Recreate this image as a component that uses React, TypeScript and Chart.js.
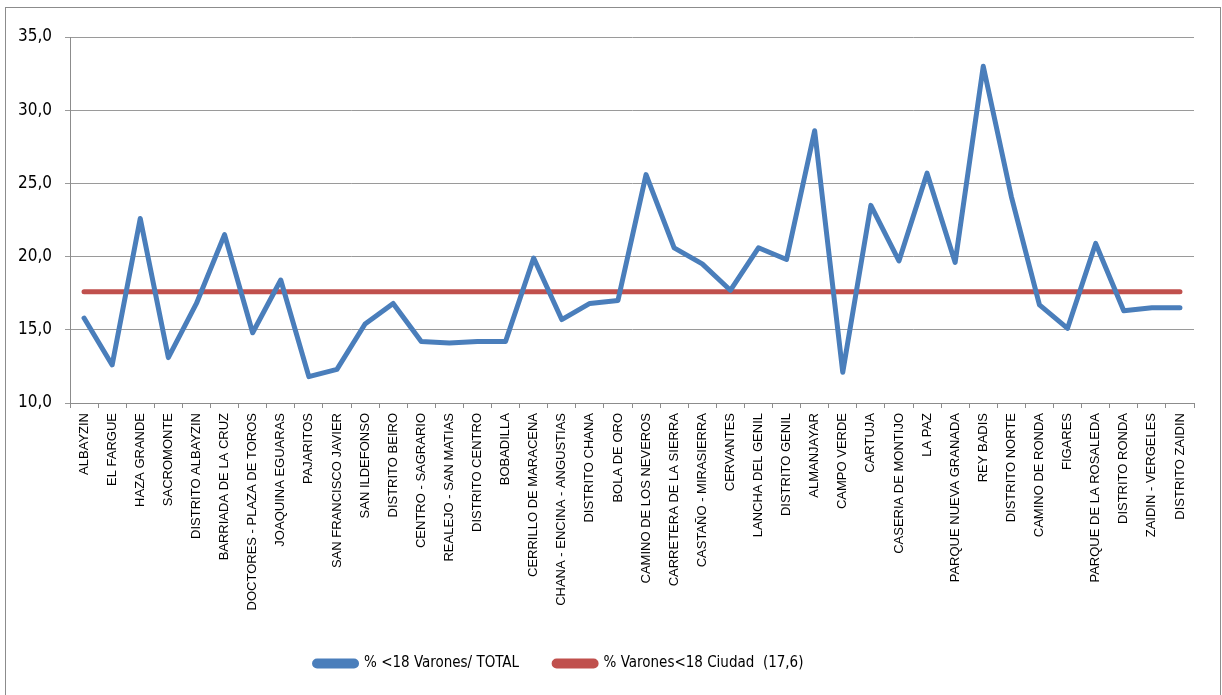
import React, { useEffect, useRef } from "react";
import { Chart, registerables } from "chart.js";

Chart.register(...registerables);

const categories = [
  "ALBAYZIN", "EL FARGUE", "HAZA GRANDE", "SACROMONTE", "DISTRITO ALBAYZIN",
  "BARRIADA DE LA CRUZ", "DOCTORES - PLAZA DE TOROS", "JOAQUINA EGUARAS", "PAJARITOS",
  "SAN FRANCISCO JAVIER", "SAN ILDEFONSO", "DISTRITO BEIRO", "CENTRO - SAGRARIO",
  "REALEJO - SAN MATIAS", "DISTRITO CENTRO", "BOBADILLA", "CERRILLO DE MARACENA",
  "CHANA - ENCINA - ANGUSTIAS", "DISTRITO CHANA", "BOLA DE ORO", "CAMINO DE LOS NEVEROS",
  "CARRETERA DE LA SIERRA", "CASTAÑO - MIRASIERRA", "CERVANTES", "LANCHA DEL GENIL",
  "DISTRITO GENIL", "ALMANJAYAR", "CAMPO VERDE", "CARTUJA", "CASERIA DE MONTIJO",
  "LA PAZ", "PARQUE NUEVA GRANADA", "REY BADIS", "DISTRITO NORTE", "CAMINO DE RONDA",
  "FIGARES", "PARQUE DE LA ROSALEDA", "DISTRITO RONDA", "ZAIDIN - VERGELES", "DISTRITO ZAIDIN",
];

const varonesTotal = [
  15.8, 12.6, 22.6, 13.1, 16.8, 21.5, 14.8, 18.4, 11.8, 12.3,
  15.4, 16.8, 14.2, 14.1, 14.2, 14.2, 19.9, 15.7, 16.8, 17.0,
  25.6, 20.6, 19.5, 17.7, 20.6, 19.8, 28.6, 12.1, 23.5, 19.7,
  25.7, 19.6, 33.0, 24.1, 16.7, 15.1, 20.9, 16.3, 16.5, 16.5,
];

const ciudadValue = 17.6;
const ciudad = categories.map(() => ciudadValue);

const seriesLabels = ["% <18 Varones/ TOTAL", "% Varones<18 Ciudad  (17,6)"];

const yMin = 10;
const yMax = 35;
const yStep = 5;

const borderPlugin = {
  id: "outerBorder",
  beforeDraw(chart: any) {
    const ctx = chart.ctx;
    ctx.save();
    ctx.fillStyle = "#ffffff";
    ctx.fillRect(0, 0, chart.width, chart.height);
    ctx.strokeStyle = "#8c8c8c";
    ctx.lineWidth = 1;
    ctx.strokeRect(5.5, 7.5, 1215, 720);
    ctx.restore();
  },
  afterLayout(chart: any) {
    const lg = chart.legend;
    if (lg) {
      const dx = -38;
      const dy = -14;
      lg.left += dx;
      lg.right += dx;
      lg.top += dy;
      lg.bottom += dy;
    }
  },
};

export default function App() {
  const ref = useRef<HTMLCanvasElement | null>(null);
  useEffect(() => {
    if (!ref.current) return;
    const chart = new Chart(ref.current, {
      type: "line",
      data: {
        labels: categories,
        datasets: [
          {
            label: seriesLabels[0],
            data: varonesTotal,
            borderColor: "#4A7EBB",
            backgroundColor: "#4A7EBB",
            borderWidth: 5,
            pointRadius: 0,
            tension: 0,
            borderCapStyle: "round",
            borderJoinStyle: "round",
          },
          {
            label: seriesLabels[1],
            data: ciudad,
            borderColor: "#C0504D",
            backgroundColor: "#C0504D",
            borderWidth: 5,
            pointRadius: 0,
            tension: 0,
            borderCapStyle: "round",
          },
        ],
      },
      options: {
        animation: false,
        responsive: false,
        maintainAspectRatio: false,
        layout: { padding: { top: 37, right: 28, bottom: 0, left: 0 } },
        plugins: {
          tooltip: { enabled: false },
          legend: {
            position: "bottom",
            labels: {
              boxWidth: 42,
              boxHeight: 5,
              padding: 35,
              useBorderRadius: true,
              borderRadius: 2.5,
              color: "#000",
              font: { family: "'Liberation Sans Narrow', 'DejaVu Sans Condensed', sans-serif", size: 15 },
            },
          },
        },
        scales: {
          x: {
            offset: true,
            grid: {
              offset: true,
              drawOnChartArea: false,
              drawTicks: true,
              tickLength: 5,
              color: "#8c8c8c",
            },
            border: { color: "#8c8c8c" },
            ticks: {
              autoSkip: false,
              maxRotation: 90,
              minRotation: 90,
              padding: 5,
              color: "#000",
              font: { family: "'Liberation Sans', Arial, sans-serif", size: 13 },
            },
            afterFit(scale: any) {
              const c = scale.chart;
              const lh = c.legend ? c.legend.height : 0;
              scale.height = c.height - lh - 403;
            },
          },
          y: {
            min: yMin,
            max: yMax,
            grid: { color: "#9a9a9a", tickLength: 5 },
            border: { color: "#8c8c8c" },
            ticks: {
              stepSize: yStep,
              padding: 13,
              color: "#000",
              font: { family: "'Liberation Sans Narrow', 'DejaVu Sans Condensed', sans-serif", size: 17 },
              callback: (v: any) => Number(v).toFixed(1).replace(".", ","),
            },
            afterFit(scale: any) {
              scale.width = 70;
            },
          },
        },
      },
      plugins: [borderPlugin],
    });
    return () => chart.destroy();
  }, []);
  return (
    <div style={{ position: "absolute", left: 0, top: 0, width: 1222, height: 695 }}>
      <canvas ref={ref} width={1222} height={695} style={{ width: 1222, height: 695 }} />
    </div>
  );
}
